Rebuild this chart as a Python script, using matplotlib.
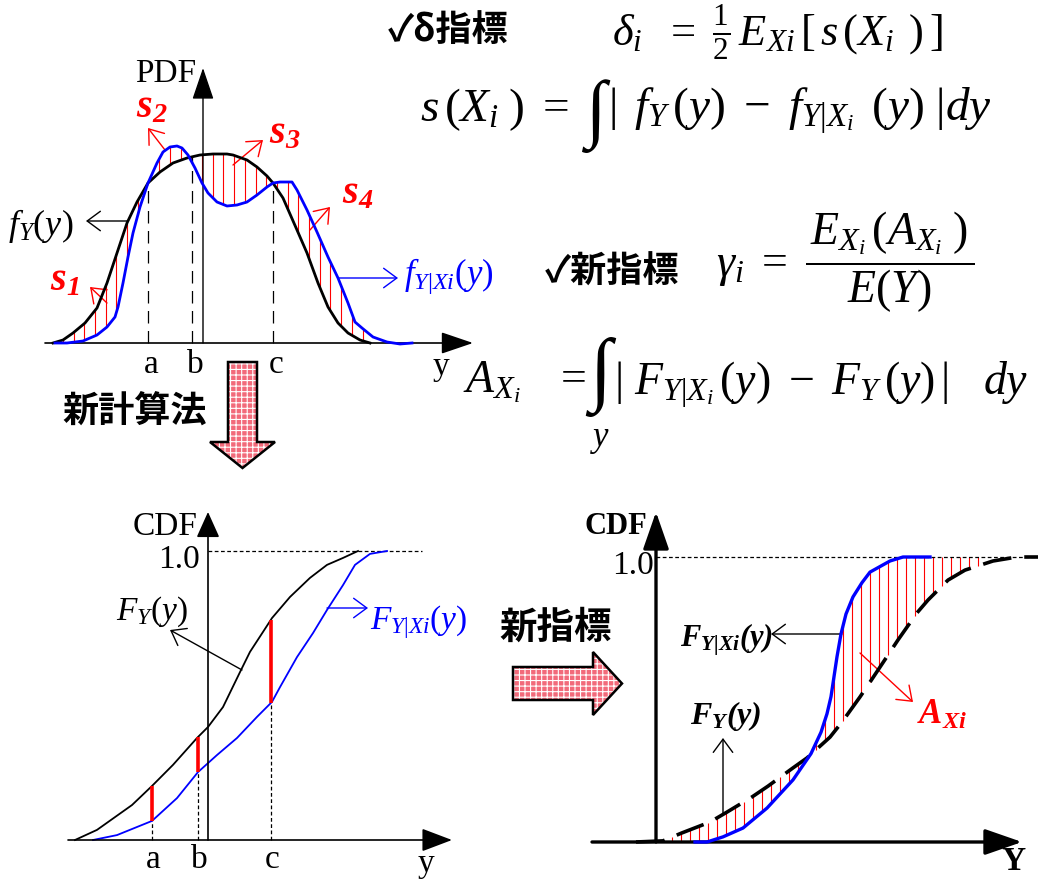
import numpy as np
import matplotlib
matplotlib.use('Agg')
import matplotlib.pyplot as plt
import matplotlib.patches as mpatches

# Times-like text everywhere, bold italic reserved for \mathbf labels
plt.rcParams['font.family'] = ['Liberation Serif']
plt.rcParams['mathtext.fontset'] = 'custom'
plt.rcParams['mathtext.rm'] = 'Liberation Serif'
plt.rcParams['mathtext.it'] = 'Liberation Serif:italic'
plt.rcParams['mathtext.bf'] = 'Liberation Serif:bold:italic'
plt.rcParams['hatch.linewidth'] = 0.8

W, H = 1038, 880
CJK = ['Noto Sans CJK JP', 'DejaVu Sans']
RED = '#ff0000'
BLUE = '#0000ff'

# ---- PDF panel: f_Y(y) and f_{Y|Xi}(y) ----
pdf_x_fy = [-1.50, -1.40, -1.30, -1.18, -1.06, -0.96, -0.86, -0.76, -0.66, -0.55,
            -0.43, -0.30, -0.16, -0.03, 0.10, 0.24, 0.30, 0.44, 0.54, 0.64,
            0.70, 0.80, 0.94, 1.04, 1.15, 1.25, 1.35, 1.45, 1.57, 1.67]
pdf_fy = [0.00, 0.03, 0.10, 0.20, 0.35, 0.60, 0.90, 1.20, 1.41, 1.60,
          1.71, 1.80, 1.85, 1.88, 1.89, 1.89, 1.88, 1.83, 1.76, 1.67,
          1.60, 1.45, 1.13, 0.90, 0.60, 0.36, 0.20, 0.10, 0.03, 0.00]
pdf_x_fyx = [-1.48, -1.36, -1.20, -1.06, -0.96, -0.88, -0.85, -0.80, -0.75, -0.70,
             -0.63, -0.55, -0.46, -0.40, -0.33, -0.26, -0.21, -0.15, -0.08, -0.01,
             0.05, 0.14, 0.24, 0.34, 0.44, 0.54, 0.64, 0.70, 0.77, 0.89,
             0.94, 1.04, 1.14, 1.25, 1.35, 1.45, 1.52, 1.59, 1.70, 1.84,
             1.97, 2.09]
pdf_fyx = [0.00, 0.00, 0.02, 0.08, 0.16, 0.26, 0.36, 0.60, 0.86, 1.10,
           1.36, 1.60, 1.80, 1.91, 1.96, 1.97, 1.95, 1.88, 1.75, 1.60,
           1.50, 1.41, 1.37, 1.38, 1.41, 1.48, 1.56, 1.60, 1.61, 1.61,
           1.53, 1.33, 1.11, 0.86, 0.65, 0.40, 0.21, 0.15, 0.06, 0.01,
           -0.01, 0.00]
pdf_marks = {'a': -0.55, 'b': -0.11, 'c': 0.70}

# ---- CDF panel (left): F_Y(y) and F_{Y|Xi}(y) ----
cdf1_x_fy = [-1.33, -1.11, -0.76, -0.56, -0.35, -0.11, 0.00, 0.15, 0.32, 0.42,
             0.55, 0.64, 0.82, 1.02, 1.19, 1.35, 1.50]
cdf1_fy = [0.000, 0.035, 0.121, 0.187, 0.260, 0.353, 0.391, 0.460, 0.581, 0.651,
           0.720, 0.768, 0.841, 0.907, 0.952, 0.976, 1.000]
cdf1_x_fyx = [-1.15, -0.91, -0.56, -0.31, -0.10, 0.09, 0.29, 0.49, 0.64, 0.72,
              0.89, 1.05, 1.19, 1.35, 1.47, 1.62, 1.79]
cdf1_fyx = [0.000, 0.017, 0.066, 0.145, 0.235, 0.294, 0.353, 0.426, 0.478, 0.529,
            0.633, 0.716, 0.796, 0.882, 0.952, 0.990, 1.000]
cdf1_marks = {'a': -0.56, 'b': -0.10, 'c': 0.63}

# ---- CDF panel (right): area A_Xi between the two CDFs ----
cdf2_x_fyx = [0.39, 0.51, 0.67, 0.87, 1.11, 1.37, 1.55, 1.65, 1.71, 1.75,
              1.78, 1.81, 1.85, 1.90, 1.97, 2.06, 2.14, 2.34, 2.47, 2.74]
cdf2_fyx = [0.000, 0.000, 0.018, 0.049, 0.119, 0.218, 0.310, 0.385, 0.450, 0.510,
            0.580, 0.650, 0.730, 0.800, 0.860, 0.910, 0.947, 0.986, 1.000, 1.000]
cdf2_x_fy = [-0.20, 0.07, 0.26, 0.54, 0.71, 0.96, 1.12, 1.37, 1.51, 1.74,
             1.86, 2.04, 2.14, 2.32, 2.42, 2.61, 2.72, 2.92, 3.09, 3.37,
             3.61, 3.82]
cdf2_fy = [0.000, 0.004, 0.032, 0.070, 0.105, 0.158, 0.196, 0.260, 0.295, 0.368,
           0.421, 0.509, 0.561, 0.656, 0.709, 0.804, 0.849, 0.919, 0.954, 0.986,
           1.000, 1.000]

fig = plt.figure(figsize=(W / 100, H / 100), dpi=100)

# pixel canvas for text, pointers and block arrows
canvas = fig.add_axes([0, 0, 1, 1])
canvas.set_xlim(0, W)
canvas.set_ylim(H, 0)
canvas.axis('off')


def panel_axes(ox, oy, ux, uy):
    """full-figure axes whose data origin sits at pixel (ox, oy)"""
    ax = fig.add_axes([0, 0, 1, 1])
    ax.set_xlim(-ox / ux, (W - ox) / ux)
    ax.set_ylim((oy - H) / uy, oy / uy)
    ax.axis('off')
    ax.patch.set_visible(False)
    return ax


def axis_arrow(ax, start, tip, lw, hl, hw):
    ax.annotate('', xy=tip, xytext=start,
                arrowprops=dict(arrowstyle=f'-|>,head_length={hl},head_width={hw}',
                                lw=lw, color='k', shrinkA=0, shrinkB=0,
                                mutation_scale=20))


def pointer(start, tip, color='k', lw=1.0):
    canvas.annotate('', xy=tip, xytext=start,
                    arrowprops=dict(arrowstyle='->,head_length=0.95,head_width=0.7',
                                    lw=lw, color=color, shrinkA=0, shrinkB=0,
                                    mutation_scale=10))


def block_arrow(x, y, dx, dy, width, head_width, head_length):
    styles = (dict(facecolor='#f26a7a', edgecolor='white', hatch='+++', lw=0),
              dict(fill=False, edgecolor='k', lw=1.8))
    for kw in styles:
        canvas.add_patch(mpatches.FancyArrow(x, y, dx, dy, width=width,
                                             head_width=head_width,
                                             head_length=head_length,
                                             length_includes_head=True, **kw))


# ================= PDF panel =================
ax1 = panel_axes(203, 343, 100, 100)
xs = np.arange(-1.40, 1.70, 0.107)
ax1.vlines(xs, np.interp(xs, pdf_x_fy, pdf_fy), np.interp(xs, pdf_x_fyx, pdf_fyx),
           colors=RED, lw=0.8, zorder=1)
for name, xm in pdf_marks.items():
    top = np.interp(xm, pdf_x_fy, pdf_fy)
    ax1.plot([xm, xm], [0, top], color='k', lw=0.9, ls=(0, (10, 6)), zorder=2)
    ax1.text(xm + 0.03, -0.22, name, ha='center', va='center', fontsize=24)
ax1.plot(pdf_x_fy, pdf_fy, color='k', lw=2.0, zorder=3)
ax1.plot(pdf_x_fyx, pdf_fyx, color=BLUE, lw=2.0, zorder=4)
axis_arrow(ax1, (-1.58, 0), (2.70, 0), 1.2, 1.0, 0.34)
axis_arrow(ax1, (0, 0), (0, 2.75), 1.0, 1.0, 0.34)

canvas.text(196, 74, 'PDF', ha='right', va='center', fontsize=24)
canvas.text(441, 367, 'y', ha='center', va='center', fontsize=24)
canvas.text(8, 226, r'$f_Y(y)$', ha='left', va='center', fontsize=26)
pointer((127, 221), (86, 221))
canvas.text(404, 276, r'$f_{Y\mathit{|}Xi}(y)$', ha='left', va='center',
            fontsize=25, color=BLUE)
pointer((338, 278), (398, 278), color=BLUE)

for lbl, pos, start, tip in [('1', (50, 281), (107, 303), (90, 287)),
                             ('2', (136, 108), (165, 150), (148, 128)),
                             ('3', (269, 134), (233, 165), (263, 140)),
                             ('4', (342, 194), (310, 230), (330, 207))]:
    canvas.text(pos[0], pos[1], r'$\mathbf{s_{%s}}$' % lbl, ha='left', va='center',
                fontsize=29, color=RED)
    pointer(start, tip, color=RED)

# ================= formulas =================
canvas.text(388, 30, '✓δ指標', family=CJK, weight='bold', fontsize=26,
            ha='left', va='center')
canvas.text(612, 45, r'$\delta_i\ \ =\ \frac{1}{2}\,E_{Xi}\,[\,s\,(X_i\;\,)\,]$',
            fontsize=32, ha='left', va='baseline')
canvas.text(420, 121, r'$s\,(X_i\;)\ =$', fontsize=34, ha='left', va='baseline')
canvas.text(596, 116, '∫', fontsize=54, ha='center', va='center')
canvas.text(608, 121, r'$|\ \,f_Y\,(y)\ -\ f_{Y|X_i}\,\ (y)\ |dy$', fontsize=34,
            ha='left', va='baseline')

canvas.text(545, 272, '✓新指標', family=CJK, weight='bold', fontsize=26,
            ha='left', va='center')
canvas.text(716, 262, r'$\gamma_i\ =\ \dfrac{\,E_{X_i}\,(A_{X_i}\;)\,}{E(Y)}$',
            fontsize=33, ha='left', va='center')

canvas.text(463, 392, r'$A_{X_i}\ \ \ =$', fontsize=33, ha='left', va='baseline')
canvas.text(600, 377, '∫', fontsize=58, ha='center', va='center')
canvas.text(600, 440, r'$y$', fontsize=25, ha='center', va='center')
canvas.text(614, 395, r'$|\ F_{Y|X_i}\,(y)\ -\ F_Y\,(y)\,|\ \ \ dy$', fontsize=33,
            ha='left', va='baseline')

# ================= block arrows =================
block_arrow(242.5, 362, 0, 106, 29, 65, 26)
canvas.text(62, 412, '新計算法', family=CJK, weight='bold', fontsize=26,
            ha='left', va='center')
block_arrow(513, 683.5, 109, 0, 33, 63, 29)
canvas.text(499, 627, '新指標', family=CJK, weight='bold', fontsize=27,
            ha='left', va='center')

# ================= CDF panel (left) =================
ax2 = panel_axes(208, 840, 100, 289)
ax2.plot(cdf1_x_fy, cdf1_fy, color='k', lw=1.3, zorder=3)
ax2.plot(cdf1_x_fyx, cdf1_fyx, color=BLUE, lw=1.3, zorder=3)
for name, xm in cdf1_marks.items():
    lo = np.interp(xm, cdf1_x_fyx, cdf1_fyx)
    hi = np.interp(xm, cdf1_x_fy, cdf1_fy)
    ax2.plot([xm, xm], [0, lo], color='k', lw=0.9, ls=(0, (3, 2)), zorder=2)
    ax2.plot([xm, xm], [lo, hi], color=RED, lw=2.6, zorder=4, solid_capstyle='butt')
    ax2.text(xm + 0.01, -0.07, name, ha='center', va='center', fontsize=24)
ax2.hlines(1.0, 0, 2.14, color='k', lw=0.9, ls=(0, (3, 2)))
axis_arrow(ax2, (-1.40, 0), (2.44, 0), 1.2, 0.95, 0.36)
axis_arrow(ax2, (0, 0), (0, 1.135), 1.2, 0.8, 0.36)

canvas.text(198, 527, 'CDF', ha='right', va='center', fontsize=24)
canvas.text(200, 560, '1.0', ha='right', va='center', fontsize=24)
canvas.text(426, 864, 'y', ha='center', va='center', fontsize=24)
canvas.text(116, 612, r'$F_Y(y)$', ha='left', va='center', fontsize=24)
pointer((242, 670), (170, 630))
canvas.text(370, 622, r'$F_{Y\mathit{|}Xi}(y)$', ha='left', va='center',
            fontsize=24, color=BLUE)
pointer((327, 608), (368, 608), color=BLUE)

# ================= CDF panel (right) =================
ax3 = panel_axes(656, 842, 100, 285)
xs = np.arange(0.07, 3.30, 0.09)
ax3.vlines(xs, np.interp(xs, cdf2_x_fy, cdf2_fy), np.interp(xs, cdf2_x_fyx, cdf2_fyx),
           colors=RED, lw=0.8, zorder=1)
ax3.hlines(1.0, 0, 3.82, color='k', lw=0.9, ls=(0, (3, 2)), zorder=1)
ax3.plot(cdf2_x_fy, cdf2_fy, color='k', lw=2.6, dashes=(8, 3.6), zorder=3)
ax3.plot(cdf2_x_fyx, cdf2_fyx, color=BLUE, lw=2.4, zorder=4)
axis_arrow(ax3, (-0.64, 0), (3.66, 0), 2.4, 1.15, 0.4)
axis_arrow(ax3, (0, 0), (0, 1.158), 2.4, 1.15, 0.4)

canvas.text(647, 527, 'CDF', ha='right', va='center', fontsize=22, weight='bold')
canvas.text(654, 566, '1.0', ha='right', va='center', fontsize=24)
canvas.text(1013, 861, 'Y', ha='center', va='center', fontsize=24, weight='bold')
canvas.text(680, 640, r'$\mathbf{F_{Y|Xi}(y)}$', ha='left', va='center', fontsize=22)
pointer((842, 634), (771, 634))
canvas.text(690, 716, r'$\mathbf{F_Y(y)}$', ha='left', va='center', fontsize=23)
pointer((723, 813), (723, 738))
canvas.text(917, 715, r'$\mathbf{A_{Xi}}$', ha='left', va='center', fontsize=25,
            color=RED)
pointer((860, 653), (913, 702), color=RED)

fig.savefig('out.png', dpi=100, facecolor='white')
